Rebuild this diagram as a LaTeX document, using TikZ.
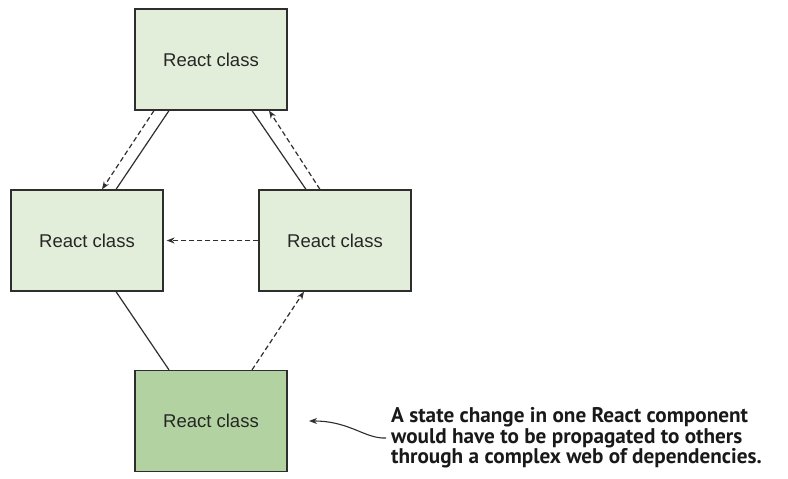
\documentclass[tikz,border=0pt]{standalone}
\usepackage{fontspec}
\setmainfont{Liberation Sans}
\newfontfamily\notefont{PT Sans}
\usetikzlibrary{arrows.meta}
\definecolor{boxlight}{HTML}{E3EEDA}
\definecolor{boxdark}{HTML}{B2D3A1}
\definecolor{edge}{HTML}{2E2E2E}
\tikzset{
    classbox/.style={draw=edge, line width=1.2pt, fill=boxlight, minimum width=152pt, minimum height=101pt, inner sep=0pt, font=\fontsize{18.5}{20}\selectfont, text=black!85},
    link/.style={edge, line width=1.2pt},
    flow/.style={edge, line width=1.2pt, dash pattern=on 5pt off 3pt, -{Stealth[length=8pt, width=6pt]}},
}
\begin{document}
\begin{tikzpicture}[x=1pt, y=-1pt]
    \useasboundingbox (0,0) rectangle (788,479);

    \node[classbox] (top) at (211,59.5) {React class};
    \node[classbox] (left) at (87,240.5) {React class};
    \node[classbox] (right) at (335,240.5) {React class};
    \node[classbox, fill=boxdark] (bottom) at (211,421) {React class};

    % top <-> left
    \draw[link] ([xshift=-42pt]top.south) -- ([xshift=29pt]left.north);
    \draw[flow] ([xshift=-57pt]top.south) -- ([xshift=15pt]left.north);

    % top <-> right
    \draw[link] ([xshift=41pt]top.south) -- ([xshift=-29pt]right.north);
    \draw[flow] ([xshift=-15pt]right.north) -- ([xshift=58pt]top.south);

    \draw[flow] (right.west) -- ([xshift=3pt]left.east);

    % bottom row
    \draw[link] ([xshift=29pt]left.south) -- ([xshift=-42pt]bottom.north);
    \draw[flow] ([xshift=41pt]bottom.north) -- ([xshift=-31pt]right.south);

    \node[anchor=west, align=left, inner sep=5pt, font=\notefont\bfseries\fontsize{21.2}{20.5}\selectfont, text=black!90] (note) at (386,438)
        {A state change in one React component\\would have to be propagated to others\\through a complex web of dependencies.};
    \coordinate (tip) at (309,421);
    \draw[edge, line width=1.1pt, -{Stealth[length=8pt, width=6pt]}] (note.west) .. controls (365,439) and (350,421) .. (tip);
\end{tikzpicture}
\end{document}
